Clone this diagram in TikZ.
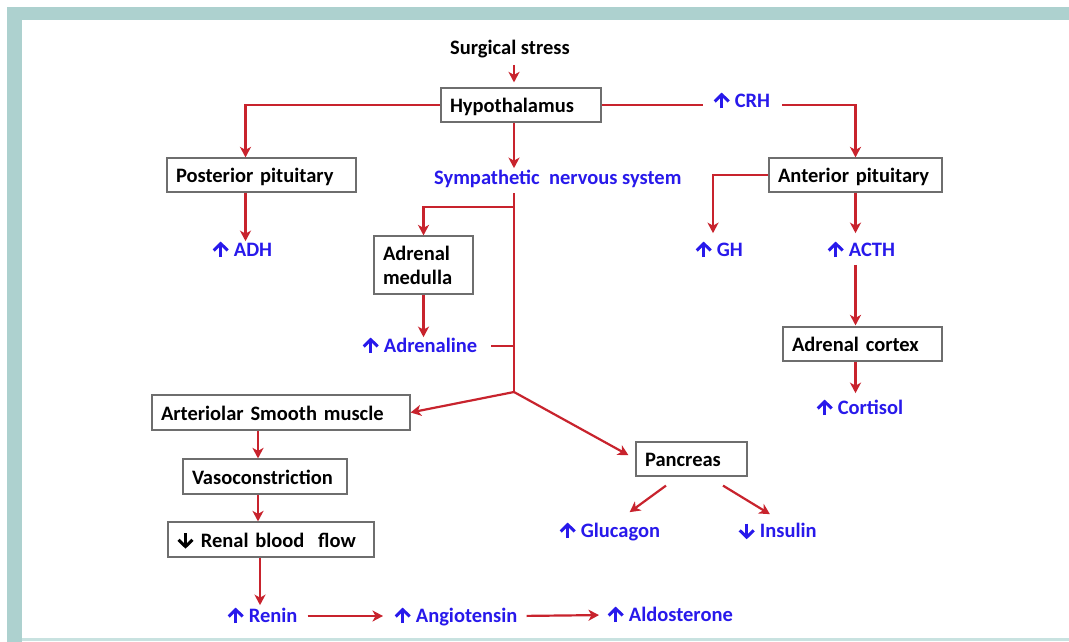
\documentclass[tikz,border=0pt]{standalone}
\usepackage{fontspec}
\setmainfont{Carlito}
\usetikzlibrary{arrows.meta}
\definecolor{frame}{RGB}{173,209,207}
\definecolor{framelight}{RGB}{200,226,224}
\definecolor{lred}{RGB}{200,35,45}
\definecolor{tblue}{RGB}{40,25,235}
\definecolor{bgray}{RGB}{110,110,110}
\newsavebox\upB
\newsavebox\dnB
\newsavebox\dnK
\newcommand{\up}{\usebox\upB}
\newcommand{\dn}{\usebox\dnB}
\newcommand{\dnk}{\usebox\dnK}
\newcommand{\mkupglyph}[1]{%
  \begin{pgfpicture}
    \pgfpathrectangle{\pgfpoint{-8.5pt}{0pt}}{\pgfpoint{17pt}{14pt}}\pgfusepath{use as bounding box}
    \pgfsetstrokecolor{#1}\pgfsetlinewidth{3pt}\pgfsetmiterjoin
    \pgfpathmoveto{\pgfpoint{0pt}{-0.5pt}}\pgfpathlineto{\pgfpoint{0pt}{13pt}}\pgfusepath{stroke}
    \pgfpathmoveto{\pgfpoint{-7pt}{6.2pt}}\pgfpathlineto{\pgfpoint{0pt}{13pt}}\pgfpathlineto{\pgfpoint{7pt}{6.2pt}}\pgfusepath{stroke}
  \end{pgfpicture}}
\newcommand{\mkdnglyph}[1]{%
  \begin{pgfpicture}
    \pgfpathrectangle{\pgfpoint{-8.5pt}{0pt}}{\pgfpoint{17pt}{14pt}}\pgfusepath{use as bounding box}
    \pgfsetstrokecolor{#1}\pgfsetlinewidth{3pt}\pgfsetmiterjoin
    \pgfpathmoveto{\pgfpoint{0pt}{14pt}}\pgfpathlineto{\pgfpoint{0pt}{0.5pt}}\pgfusepath{stroke}
    \pgfpathmoveto{\pgfpoint{-7pt}{7.3pt}}\pgfpathlineto{\pgfpoint{0pt}{0.5pt}}\pgfpathlineto{\pgfpoint{7pt}{7.3pt}}\pgfusepath{stroke}
  \end{pgfpicture}}
\tikzset{
  base/.style={font=\fontsize{20.5}{24}\selectfont\bfseries},
  boxb/.style={base, draw=bgray, line width=1.2pt, fill=white, inner xsep=9pt, inner ysep=0pt, align=left},
  box/.style={boxb, text height=18.5pt, text depth=3.3pt},
  lab/.style={base, inner sep=0pt, anchor=west, text height=13.3pt, text depth=0pt},
  blab/.style={lab, text=tblue},
  klab/.style={lab, text=black},
  conn/.style={draw=lred, line width=2.2pt},
  arr/.style={conn, -{Stealth[length=10.5pt,width=11pt,inset=3pt]}},
}
\begin{document}
\sbox\upB{\mkupglyph{tblue}}%
\sbox\dnB{\mkdnglyph{tblue}}%
\sbox\dnK{\mkdnglyph{black}}%
\begin{tikzpicture}[x=1pt,y=-1pt]
\useasboundingbox (0,0) rectangle (1069,642);
\fill[white] (0,0) rectangle (1069,642);
% frame
\fill[frame] (7,7) rectangle (1069,20);
\fill[frame] (7,7) rectangle (22,642);
\fill[framelight] (22,638) rectangle (1069,641);

% boxes
\node[box, minimum width=160pt, minimum height=34pt, text width=142pt] (hyp) at (521,105) {Hypothalamus};
\node[box, minimum width=189pt, minimum height=34pt, text width=171pt] (pp) at (261.5,175) {Posterior pituitary};
\node[box, minimum width=173pt, minimum height=34pt, text width=155pt] (ap) at (855.5,175) {Anterior pituitary};
\node[boxb, minimum width=99pt, minimum height=58pt, text width=81pt] (am) at (423.5,265) {Adrenal\\medulla};
\node[box, minimum width=159pt, minimum height=34pt, text width=141pt] (ac) at (862.5,344) {Adrenal cortex};
\node[box, minimum width=258pt, minimum height=35pt, text width=240pt] (art) at (281,412.5) {Arteriolar Smooth muscle};
\node[box, minimum width=164pt, minimum height=35pt, text width=146pt] (vaso) at (265,476.5) {Vasoconstriction};
\node[box, minimum width=206pt, minimum height=35pt, text width=188pt] (renal) at (271,539.5) {\dnk\ Renal blood\ \ flow};
\node[box, minimum width=111pt, minimum height=34pt, text width=93pt] (pan) at (691.5,459) {Pancreas};

% labels
\node[klab] (surg) at (450,48) {Surgical stress};
\node[blab] (crh) at (713,101) {\up\ CRH};
\node[blab] (sns) at (434,178) {Sympathetic\ \ nervous system};
\node[blab] (adh) at (212,250) {\up\ ADH};
\node[blab] (gh) at (695,250) {\up\ GH};
\node[blab] (acth) at (827,250) {\up\ ACTH};
\node[blab] (adr) at (362,346) {\up\ Adrenaline};
\node[blab] (cort) at (816,408) {\up\ Cortisol};
\node[blab] (gluc) at (559,531) {\up\ Glucagon};
\node[blab] (ins) at (738,531) {\dn\ Insulin};
\node[blab] (renin) at (227,616) {\up\ Renin};
\node[blab] (angio) at (394,616) {\up\ Angiotensin};
\node[blab] (aldo) at (607,615) {\up\ Aldosterone};

% helper coordinates
\coordinate (tk) at (514,193);
\coordinate (tb) at (514,207);
\coordinate (tj) at (514,392);
\coordinate (lc) at (258,0);

% connectors
\draw[arr, shorten <=10pt, shorten >=5pt] (surg.south -| tk) -- (hyp.north -| tk);
\draw[arr] (hyp.west) -| ([xshift=-16pt]pp.north);
\draw[arr, shorten >=2pt] ([xshift=-16pt]pp.south) -- ([xshift=-16pt]pp.south |- adh.north);
\draw[conn, shorten >=10pt] (hyp.east) -- (hyp.east -| crh.west);
\draw[arr] ([xshift=12pt]hyp.east -| crh.east) -| (ap.north);
\draw[arr, shorten >=3pt] (hyp.south -| tk) -- (sns.north -| tk);
\draw[conn] (tk) -- (tj);
\draw[arr] (tb) -| (am.north);
\draw[arr, shorten >=2pt] (am.south) -- (am.south |- adr.north);
\draw[conn] ([xshift=14pt]adr.east) -- (adr.east -| tk);
\draw[arr] (tj) -- (art.east);
\draw[arr, shorten >=8pt] (tj) -- (pan.west);
\draw[arr] (art.south -| lc) -- (vaso.north -| lc);
\draw[arr] (vaso.south -| lc) -- (renal.north -| lc);
\draw[arr, shorten >=4pt] ([xshift=-11pt]renal.south) -- ([xshift=-11pt]renal.south |- renin.north);
\draw[arr, shorten <=10pt, shorten >=11pt] (renin.east) -- (angio.west);
\draw[arr, shorten <=9pt, shorten >=8pt] (angio.east) -- (aldo.west);
\draw[arr] ([xshift=-25.5pt,yshift=-9pt]pan.south) -- ([xshift=20pt,yshift=12pt]gluc.north);
\draw[arr] ([xshift=31.5pt,yshift=-9pt]pan.south) -- ([xshift=-7.5pt,yshift=10pt]ins.north);
\draw[arr, shorten >=10pt] (ap.west) -| ([xshift=-6pt]gh.north);
\draw[arr, shorten >=10pt] (ap.south) -- (ap.south |- acth.north);
\draw[arr, shorten <=8pt, shorten >=1pt] (acth.south -| ap.south) -- (ac.north -| ap.south);
\draw[arr, shorten >=8pt] (ac.south -| ap.south) -- (ap.south |- cort.north);
\end{tikzpicture}
\end{document}
